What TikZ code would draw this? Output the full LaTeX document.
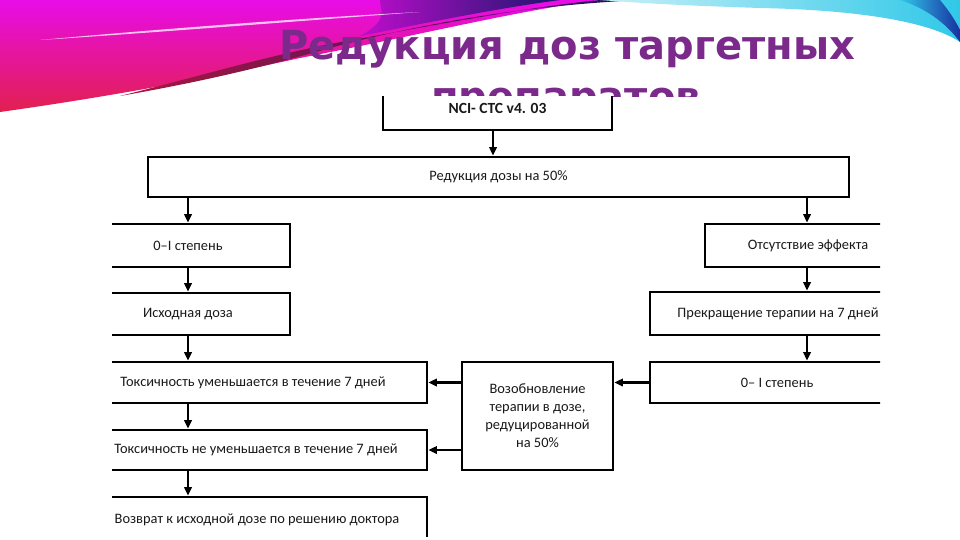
\documentclass[tikz,border=0pt]{standalone}
\usepackage{fontspec}
\setmainfont{Carlito}
\newfontfamily\titlefont{DejaVu Sans}
\usetikzlibrary{arrows.meta}
\definecolor{titlepurple}{HTML}{7B2A8C}
\definecolor{swmag}{HTML}{E80CE8}
\definecolor{swred}{HTML}{E2204E}
\definecolor{swdark}{HTML}{5A0A2A}
\definecolor{swnavy}{HTML}{1A1060}
\definecolor{swcyan}{HTML}{30C8E8}
\definecolor{swlight}{HTML}{C8F0F8}
\definecolor{swblue}{HTML}{1830A0}
\tikzset{
  boxst/.style={draw=black, line width=2.9pt, fill=white, inner sep=0pt, align=center,
    font=\fontsize{14.4}{18}\selectfont, text=black!90},
  arr/.style={draw=black, line width=2.6pt, -{Triangle[length=8.5pt,width=7.5pt]}},
  titlest/.style={font=\titlefont\bfseries\fontsize{40}{48}\selectfont, text=titlepurple, anchor=base}
}
\begin{document}
\begin{tikzpicture}[x=1pt,y=-1pt]
\useasboundingbox (0,0) rectangle (960,540);
\fill[white] (0,0) rectangle (960,540);
% swoosh: magenta-red
\shade[top color=swmag, bottom color=swred]
  (0,0) -- (600,0) .. controls (520,10) and (420,35) .. (300,58)
  .. controls (200,80) and (100,98) .. (0,112) -- cycle;
% dark lower rim
\shade[left color=swred!60!swdark, right color=swnavy]
  (120,96) .. controls (200,82) and (260,68) .. (330,48)
  .. controls (420,24) and (520,6) .. (640,0) -- (600,0)
  .. controls (520,8) and (420,28) .. (330,44)
  .. controls (260,58) and (200,76) .. (120,96) -- cycle;
% purple/blue transition
\shade[left color=swmag!80!swnavy, right color=swnavy!80!swblue]
  (380,0) -- (560,0) .. controls (500,8) and (440,20) .. (360,36)
  .. controls (390,20) and (380,10) .. (380,0) -- cycle;
% white streak
\fill[white, opacity=0.75]
  (40,40) .. controls (150,30) and (300,18) .. (420,12)
  .. controls (300,21) and (150,33) .. (40,40) -- cycle;
% cyan top-right band
\shade[left color=swlight, right color=swcyan]
  (600,0) -- (960,0) -- (960,42) .. controls (930,22) and (860,10) .. (760,8)
  .. controls (700,6) and (650,4) .. (600,0) -- cycle;
\shade[left color=swcyan, right color=swblue]
  (900,0) -- (940,0) .. controls (950,12) and (956,22) .. (960,30) -- (960,42)
  .. controls (945,22) and (925,8) .. (900,0) -- cycle;
% title
\node[titlest] (t1) at (567,60) {Редукция доз таргетных};
\node[titlest] (t2) at (566,111) {препаратов};
% diagram image
\begin{scope}
\clip (112,97) rectangle (880,536);
\fill[white] (112,97) rectangle (880,540);
\node[boxst, minimum width=229pt, minimum height=44pt, font=\bfseries\fontsize{15.5}{18}\selectfont] (nci) at (497.5,108) {NCI- CTC v4. 03};
\node[boxst, minimum width=701pt, minimum height=40pt] (red) at (498.5,177) {Редукция дозы на 50\%};
\node[boxst, minimum width=204pt, minimum height=43pt] (l1) at (188,245.5) {0–I степень};
\node[boxst, minimum width=204pt, minimum height=42pt] (l2) at (188,314) {Исходная доза};
\node[boxst, minimum width=348pt, minimum height=41pt] (l3) at (253,382.5) {Токсичность уменьшается в течение 7 дней};
\node[boxst, minimum width=342pt, minimum height=40pt] (l4) at (256,450) {Токсичность не уменьшается в течение 7 дней};
\node[boxst, minimum width=340pt, minimum height=46pt] (l5) at (257,520) {Возврат к исходной дозе по решению доктора};
\node[boxst, minimum width=206pt, minimum height=43pt] (r1) at (808,245.5) {Отсутствие эффекта};
\node[boxst, minimum width=256pt, minimum height=43pt] (r2) at (778,313.5) {Прекращение терапии на 7 дней};
\node[boxst, minimum width=254pt, minimum height=41pt] (r3) at (777,382.5) {0– I степень};
\node[boxst, minimum width=151pt, minimum height=108pt] (mid) at (537.5,416) {Возобновление\\терапии в дозе,\\редуцированной\\на 50\%};
\coordinate (cl) at (188,0);
\coordinate (cr) at (807,0);
\draw[arr] (nci.south -| 493,0) -- (red.north -| 493,0);
\draw[arr] (red.south -| cl) -- (l1.north -| cl);
\draw[arr] (red.south -| cr) -- (r1.north -| cr);
\draw[arr] (l1.south -| cl) -- (l2.north -| cl);
\draw[arr] (l2.south -| cl) -- (l3.north -| cl);
\draw[arr] (l3.south -| cl) -- (l4.north -| cl);
\draw[arr] (l4.south -| cl) -- (l5.north -| cl);
\draw[arr] (r1.south -| cr) -- (r2.north -| cr);
\draw[arr] (r2.south -| cr) -- (r3.north -| cr);
\draw[arr] (r3.west) -- (mid.east |- r3.west);
\draw[arr] (mid.west |- l3.east) -- (l3.east);
\draw[arr] (mid.west |- l4.east) -- (l4.east);
\end{scope}
\end{tikzpicture}
\end{document}
